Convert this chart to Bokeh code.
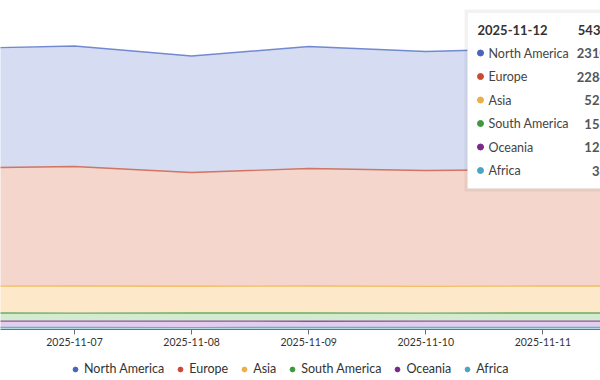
import pandas as pd
from bokeh.plotting import figure
from bokeh.layouts import column
from bokeh.models import (ColumnDataSource, Range1d, DatetimeTickFormatter, DaysTicker,
                          Legend, LegendItem, BoxAnnotation, Label)
from bokeh.embed import file_html
from bokeh.resources import INLINE

# ---------------- data ----------------
dates = ["2025-11-06", "2025-11-07", "2025-11-08", "2025-11-09",
         "2025-11-10", "2025-11-11", "2025-11-12"]
north_america = [23204, 23399, 22622, 23689, 23107, 23532, 23106]
europe = [22941, 23210, 22099, 22813, 22500, 22614, 22845]
asia = [5212, 5268, 5187, 5245, 5199, 5251, 5234]
south_america = [1583, 1549, 1571, 1596, 1552, 1578, 1567]
oceania = [1251, 1228, 1262, 1219, 1245, 1233, 1239]
africa = [372, 395, 366, 389, 378, 392, 384]

legend_order = ["North America", "Europe", "Asia", "South America", "Oceania", "Africa"]
stack_order = ["Africa", "Oceania", "South America", "Asia", "Europe", "North America"]

line_colors = {"North America": "#5470c6", "Europe": "#cc5a40", "Asia": "#f0b44c",
               "South America": "#4c9d48", "Oceania": "#7e2d8c", "Africa": "#4aa3c6"}
fill_colors = {"North America": "#d6ddf2", "Europe": "#f4d6cc", "Asia": "#fde8c9",
               "South America": "#d3ebd0", "Oceania": "#e3cdec", "Africa": "#cfe5ee"}
dot_colors = {"North America": "#4a65b8", "Europe": "#c94a35", "Asia": "#e9b04d",
              "South America": "#3e993e", "Oceania": "#7b2988", "Africa": "#4ba4c4"}

values = {"North America": north_america, "Europe": europe, "Asia": asia,
          "South America": south_america, "Oceania": oceania, "Africa": africa}

src = ColumnDataSource(dict(date=pd.to_datetime(dates), **values))

# ---------------- layout helpers (page pixels -> data) ----------------
W = 600
H_MAIN = 355
H_LEG = 25
DAY = 86400000.0
PX_PER_DAY = 117.1
t07 = pd.Timestamp("2025-11-07").value / 1e6
x_start = t07 - 74 / PX_PER_DAY * DAY
x_end = x_start + W / PX_PER_DAY * DAY
PX_PER_UNIT = 0.00515
Y_AXIS_PAGE = 329
y_end = Y_AXIS_PAGE / PX_PER_UNIT


def px2x(px):
    return x_start + px / PX_PER_DAY * DAY


def px2y(py):
    return (Y_AXIS_PAGE - py) / PX_PER_UNIT


FONT = "Lato"

p = figure(width=W, height=H_MAIN, x_axis_type="datetime", output_backend="svg",
           toolbar_location=None, y_axis_location=None,
           x_range=Range1d(x_start, x_end), y_range=Range1d(0, y_end))
p.min_border_left = 0
p.min_border_right = 0
p.min_border_top = 0
p.min_border_bottom = H_MAIN - Y_AXIS_PAGE
p.outline_line_color = None
p.xgrid.visible = False
p.ygrid.visible = False
p.background_fill_color = "white"
p.border_fill_color = "white"

p.varea_stack(stackers=stack_order, x="date", color=[fill_colors[n] for n in stack_order],
              source=src)
p.vline_stack(stackers=stack_order, x="date", color=[line_colors[n] for n in stack_order],
              line_width=1.4, line_alpha=0.8, source=src)

xa = p.xaxis[0]
xa.ticker = DaysTicker(days=list(range(1, 32)))
xa.formatter = DatetimeTickFormatter(days="%Y-%m-%d", months="%Y-%m-%d")
xa.axis_line_color = "#6e7079"
xa.major_tick_line_color = "#6e7079"
xa.minor_tick_line_color = None
xa.major_tick_in = 0
xa.major_tick_out = 5
xa.major_label_standoff = 3
xa.major_label_text_font = FONT
xa.major_label_text_font_size = "10.5px"
xa.major_label_text_color = "#333333"

# ---------------- tooltip ----------------
p.add_layout(BoxAnnotation(left=px2x(464), right=px2x(700), top=px2y(9), bottom=px2y(191),
                           fill_color="black", fill_alpha=0.05, line_color=None))
p.add_layout(BoxAnnotation(left=px2x(467), right=px2x(700), top=px2y(12), bottom=px2y(188),
                           fill_color="white", fill_alpha=1, line_color="#e2e2e2",
                           line_width=1))
last = len(dates) - 1
total = sum(values[n][last] for n in legend_order)
p.add_layout(Label(x=px2x(477), y=px2y(29), text=dates[last], text_font=FONT,
                   text_font_size="13px", text_font_style="bold", text_color="#333333",
                   text_align="left", text_baseline="middle"))
p.add_layout(Label(x=px2x(615), y=px2y(29), text=str(total), text_font=FONT,
                   text_font_size="13px", text_font_style="bold", text_color="#333333",
                   text_align="right", text_baseline="middle"))
row_y = [52.5, 76, 99.5, 123, 146.5, 170]
p.scatter(x=[px2x(480)] * 6, y=[px2y(v) for v in row_y], size=6,
          color=[dot_colors[n] for n in legend_order], level="overlay")
for n, ry in zip(legend_order, row_y):
    p.add_layout(Label(x=px2x(488), y=px2y(ry), text=n, text_font=FONT,
                       text_font_size="12.5px", text_color="#444444",
                       text_align="left", text_baseline="middle"))
    p.add_layout(Label(x=px2x(614), y=px2y(ry), text=str(values[n][last]), text_font=FONT,
                       text_font_size="13px", text_font_style="bold", text_color="#555555",
                       text_align="right", text_baseline="middle"))

# ---------------- legend (separate strip) ----------------
lg = figure(width=W, height=H_LEG, output_backend="svg", toolbar_location=None,
            x_axis_location=None, y_axis_location=None)
lg.min_border_left = 0
lg.min_border_right = 0
lg.min_border_top = 0
lg.min_border_bottom = 0
lg.outline_line_color = None
lg.xgrid.visible = False
lg.ygrid.visible = False
items = []
for n in legend_order:
    r = lg.scatter(x="date", y=n, source=src, size=0, marker="circle",
                   fill_color=dot_colors[n], line_color=dot_colors[n])
    items.append(LegendItem(label=n, renderers=[r]))
legend = Legend(items=items, orientation="horizontal", location=(69, 4),
                border_line_color=None, background_fill_alpha=0,
                label_text_font=FONT, label_text_font_size="12.5px",
                label_text_color="#333333", glyph_width=12, glyph_height=14,
                label_height=14, label_standoff=3, spacing=10, padding=2, margin=0)
lg.add_layout(legend, "center")

layout = column(p, lg, spacing=0)
open("out.html", "w").write(file_html(layout, INLINE))
